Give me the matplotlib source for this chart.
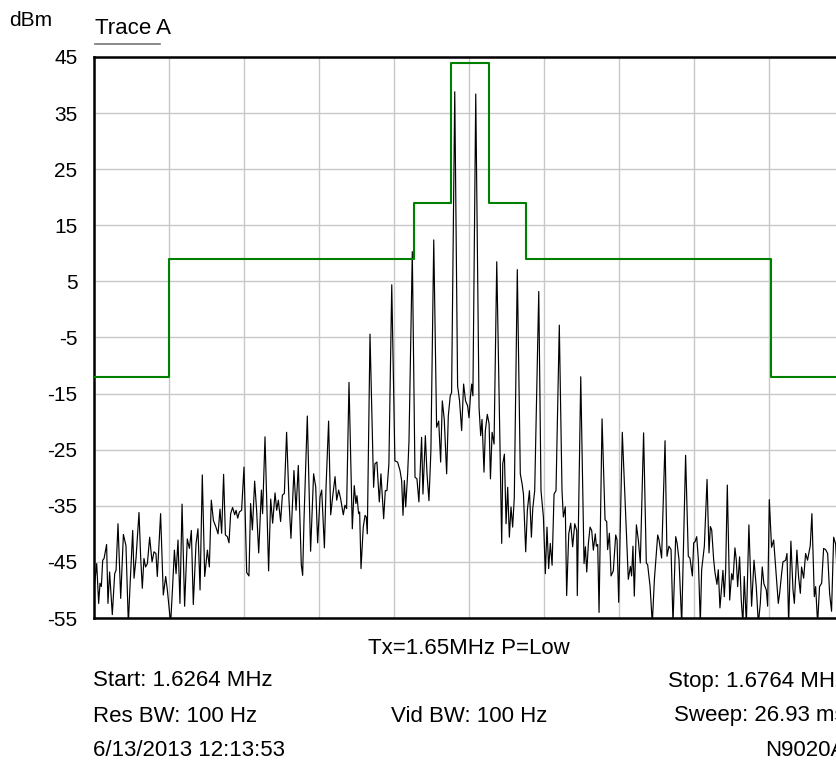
import matplotlib
matplotlib.use("Agg")
import matplotlib.pyplot as plt
from matplotlib.lines import Line2D

plt.rcParams['font.family'] = ['Liberation Sans', 'DejaVu Sans']

# sweep settings
start_mhz = 1.6264
stop_mhz = 1.6764
y_ticks = [45, 35, 25, 15, 5, -5, -15, -25, -35, -45, -55]

# limit mask (kHz from start, dBm), step after each edge
mask_edges_khz = [0.0, 5.0, 21.3, 23.8, 26.3, 28.8, 45.1, 50.0]
mask_dbm = [-12, 9, 19, 44, 19, 9, -12, -12]

trace_khz = [
    0.00, 0.18, 0.31, 0.40, 0.49, 0.58, 0.67, 0.84, 0.93, 1.04, 1.22, 1.38, 1.47, 1.60, 1.78,
    1.96, 2.13, 2.29, 2.40, 2.58, 2.67, 2.80, 3.00, 3.11, 3.22, 3.33, 3.44, 3.56, 3.71, 3.87,
    4.00, 4.13, 4.22, 4.44, 4.62, 4.78, 4.89, 5.11, 5.24, 5.36, 5.47, 5.60, 5.73, 5.87, 6.04,
    6.22, 6.36, 6.49, 6.62, 6.80, 6.93, 7.07, 7.22, 7.38, 7.56, 7.69, 7.82, 7.96, 8.13, 8.27,
    8.40, 8.51, 8.64, 8.76, 8.89, 9.00, 9.11, 9.24, 9.38, 9.47, 9.58, 9.69, 9.84, 10.00, 10.18,
    10.33, 10.44, 10.56, 10.71, 10.84, 10.98, 11.16, 11.24, 11.40, 11.64, 11.78, 11.91, 12.07, 12.18, 12.29,
    12.44, 12.56, 12.69, 12.84, 13.00, 13.13, 13.33, 13.47, 13.62, 13.82, 13.91, 14.00, 14.22, 14.44, 14.64,
    14.78, 14.91, 15.07, 15.18, 15.36, 15.47, 15.64, 15.78, 15.91, 16.07, 16.18, 16.31, 16.44, 16.62, 16.73,
    16.84, 17.00, 17.22, 17.35, 17.46, 17.53, 17.64, 17.71, 17.80, 17.95, 18.07, 18.15, 18.22, 18.40, 18.64,
    18.73, 18.86, 19.02, 19.13, 19.31, 19.42, 19.53, 19.66, 19.85, 20.06, 20.24, 20.40, 20.51, 20.60, 20.69,
    20.78, 20.91, 21.00, 21.22, 21.40, 21.53, 21.66, 21.84, 21.93, 22.09, 22.20, 22.33, 22.46, 22.65, 22.84,
    22.98, 23.11, 23.22, 23.35, 23.51, 23.62, 23.75, 23.84, 24.05, 24.24, 24.37, 24.51, 24.64, 24.77, 24.91,
    25.00, 25.09, 25.18, 25.26, 25.45, 25.67, 25.78, 25.87, 26.00, 26.09, 26.22, 26.34, 26.43, 26.54, 26.67,
    26.85, 27.18, 27.25, 27.36, 27.47, 27.58, 27.69, 27.80, 27.91, 28.02, 28.22, 28.42, 28.54, 28.63, 28.78,
    28.89, 29.03, 29.16, 29.25, 29.38, 29.65, 29.80, 29.96, 30.09, 30.20, 30.31, 30.42, 30.54, 30.67, 30.80,
    31.02, 31.20, 31.29, 31.42, 31.51, 31.65, 31.78, 31.91, 32.05, 32.18, 32.22, 32.45, 32.67, 32.76, 32.85,
    32.96, 33.07, 33.18, 33.29, 33.42, 33.49, 33.58, 33.67, 33.87, 34.07, 34.18, 34.24, 34.36, 34.47, 34.62,
    34.78, 34.87, 34.98, 35.22, 35.44, 35.56, 35.62, 35.76, 35.84, 35.93, 36.02, 36.16, 36.29, 36.42, 36.64,
    36.82, 36.91, 37.07, 37.22, 37.36, 37.44, 37.58, 37.67, 37.84, 38.07, 38.20, 38.33, 38.47, 38.60, 38.78,
    38.87, 39.00, 39.18, 39.44, 39.62, 39.73, 39.89, 39.98, 40.07, 40.18, 40.29, 40.42, 40.51, 40.69, 40.87,
    41.00, 41.09, 41.18, 41.31, 41.40, 41.53, 41.62, 41.73, 41.84, 41.93, 42.02, 42.11, 42.22, 42.38, 42.51,
    42.60, 42.73, 42.82, 42.91, 43.04, 43.15, 43.26, 43.35, 43.49, 43.66, 43.84, 44.00, 44.15, 44.29, 44.42,
    44.55, 44.66, 44.82, 44.91, 45.02, 45.17, 45.31, 45.49, 45.62, 45.71, 45.84, 45.93, 46.11, 46.20, 46.31,
    46.46, 46.60, 46.69, 46.86, 46.97, 47.09, 47.17, 47.31, 47.44, 47.57, 47.75, 47.86, 48.02, 48.11, 48.24,
    48.37, 48.51, 48.64, 48.77, 48.91, 49.04, 49.17, 49.31, 49.44, 49.53, 49.75, 50.00,
]
trace_dbm = [
    -50.0, -45.3, -52.4, -48.8, -49.4, -44.7, -44.4, -41.9, -52.4, -46.8, -54.4, -47.1, -46.5, -38.2, -51.5,
    -40.1, -42.1, -56.0, -49.4, -39.4, -47.9, -44.4, -36.2, -44.1, -49.7, -44.4, -45.9, -45.3, -40.6, -45.0,
    -43.2, -43.5, -47.6, -36.4, -50.9, -47.6, -50.0, -56.0, -49.4, -42.9, -47.1, -41.1, -52.4, -34.7, -52.9,
    -40.9, -42.6, -39.4, -52.6, -41.8, -39.1, -50.0, -29.5, -47.6, -42.9, -45.9, -34.0, -37.6, -38.8, -40.0,
    -35.6, -39.9, -29.4, -40.2, -40.5, -41.6, -36.4, -35.3, -36.6, -35.8, -37.2, -36.1, -35.8, -28.1, -46.9,
    -47.5, -34.6, -39.3, -30.6, -35.8, -43.4, -32.2, -36.4, -22.7, -46.6, -33.8, -38.1, -32.7, -35.8, -34.0,
    -37.8, -33.1, -32.8, -21.9, -34.0, -40.8, -28.7, -35.8, -27.8, -45.5, -47.4, -37.5, -19.0, -43.1, -29.3,
    -31.6, -41.6, -33.4, -32.2, -42.5, -31.6, -19.9, -36.6, -33.4, -29.8, -34.0, -32.2, -33.7, -36.6, -34.9,
    -35.5, -13.0, -39.1, -31.4, -34.6, -33.2, -36.4, -36.1, -46.2, -38.8, -36.7, -37.0, -40.0, -4.4, -31.7,
    -27.5, -27.2, -34.3, -29.3, -37.3, -32.3, -32.3, -27.5, 4.4, -27.0, -27.2, -28.7, -30.5, -36.7, -30.5,
    -35.2, -29.3, -23.4, 10.3, -29.9, -30.2, -34.3, -22.8, -32.9, -22.5, -29.3, -34.1, -25.2, 12.4, -21.0,
    -19.9, -27.2, -16.3, -19.6, -29.3, -19.0, -15.4, -14.8, 38.8, -13.6, -16.3, -21.6, -13.3, -16.3, -17.2,
    -19.3, -15.7, -13.3, -15.4, 38.4, -17.5, -22.5, -19.6, -29.0, -21.6, -18.7, -20.4, -30.2, -21.9, -24.0,
    8.5, -41.7, -27.5, -25.8, -38.2, -31.7, -40.6, -35.2, -38.8, -33.5, 7.1, -29.3, -31.1, -32.9, -43.2,
    -35.8, -32.3, -40.6, -35.5, -32.3, 3.2, -32.3, -37.0, -47.1, -38.8, -46.2, -41.7, -45.6, -32.9, -32.3,
    -2.8, -32.3, -37.0, -35.2, -51.0, -40.0, -38.1, -42.3, -38.2, -39.4, -51.0, -12.0, -45.3, -42.3, -46.8,
    -41.7, -38.8, -39.4, -42.9, -40.0, -42.2, -41.9, -54.0, -19.5, -37.5, -37.8, -42.8, -39.9, -47.5, -46.6,
    -40.2, -41.1, -52.2, -21.9, -36.4, -44.6, -48.1, -45.8, -47.5, -42.2, -51.1, -38.4, -41.1, -45.2, -22.0,
    -45.2, -45.5, -49.3, -56.0, -48.1, -45.2, -40.2, -41.1, -44.3, -23.4, -44.0, -42.2, -42.8, -56.0, -40.5,
    -41.6, -44.6, -56.0, -26.0, -44.0, -44.3, -47.5, -41.6, -41.4, -40.5, -44.6, -56.0, -46.4, -42.2, -30.3,
    -43.4, -38.7, -39.3, -44.6, -46.9, -49.0, -46.4, -53.2, -49.4, -46.5, -51.2, -46.5, -31.3, -51.8, -47.1,
    -48.2, -42.5, -44.7, -49.4, -44.1, -51.8, -56.0, -47.6, -56.0, -38.4, -52.9, -44.7, -49.4, -56.0, -52.4,
    -45.9, -48.9, -50.0, -52.9, -33.9, -42.4, -41.1, -47.6, -52.4, -50.6, -47.1, -45.0, -44.7, -43.5, -56.0,
    -41.3, -50.0, -52.4, -42.9, -47.6, -50.6, -45.9, -47.9, -43.5, -44.7, -42.1, -36.4, -51.2, -49.4, -56.0,
    -49.4, -48.8, -42.6, -42.8, -43.5, -50.6, -53.8, -40.6, -41.8, -46.5, -48.0, -46.0,
]

W, H = 837, 760
fig = plt.figure(figsize=(W / 100, H / 100), dpi=100)
# plot area runs past the right edge of the picture, as on the instrument screenshot
ax = fig.add_axes([94 / W, 1 - 618 / H, 750 / W, 561 / H])

freq = [start_mhz + k / 1000 for k in trace_khz]
mask_freq = [start_mhz + k / 1000 for k in mask_edges_khz]

ax.plot(freq, trace_dbm, color='black', lw=0.85, zorder=3)
ax.step(mask_freq, mask_dbm, where='post', color='#008000', lw=1.5, zorder=4)

ax.set_xlim(start_mhz, stop_mhz)
ax.set_ylim(-55, 45)
ax.set_xticks([start_mhz + i * 0.005 for i in range(11)])
ax.set_yticks(y_ticks)
ax.set_xticklabels([])
ax.set_yticklabels([str(v) for v in y_ticks], fontsize=15)
ax.tick_params(length=0, pad=12)
ax.grid(True, color='#c8c8c8', lw=1.0)
ax.set_axisbelow(True)
for side in ['top', 'left', 'bottom']:
    ax.spines[side].set_linewidth(1.8)
    ax.spines[side].set_color('black')
ax.spines['right'].set_visible(False)


def px_text(x, y, s, size=16, ha='left'):
    fig.text(x / W, 1 - y / H, s, fontsize=size, ha=ha, va='center')


px_text(9, 20, "dBm", 15)
px_text(95, 28, "Trace A", 16)
fig.add_artist(Line2D([95 / W, 160 / W], [1 - 44 / H, 1 - 44 / H], color='#777777', lw=1.2))

px_text(469, 648, "Tx=1.65MHz P=Low", ha='center')
px_text(93, 681, "Start: 1.6264 MHz")
px_text(93, 716, "Res BW: 100 Hz")
px_text(93, 750, "6/13/2013 12:13:53")
px_text(469, 716, "Vid BW: 100 Hz", ha='center')
# the screenshot is cropped, so the right column runs off the edge
px_text(846, 681, "Stop: 1.6764 MHz", ha='right')
px_text(846, 716, "Sweep: 26.93 ms", ha='right')
px_text(846, 750, "N9020A", ha='right')

fig.savefig("out.png", dpi=100)
